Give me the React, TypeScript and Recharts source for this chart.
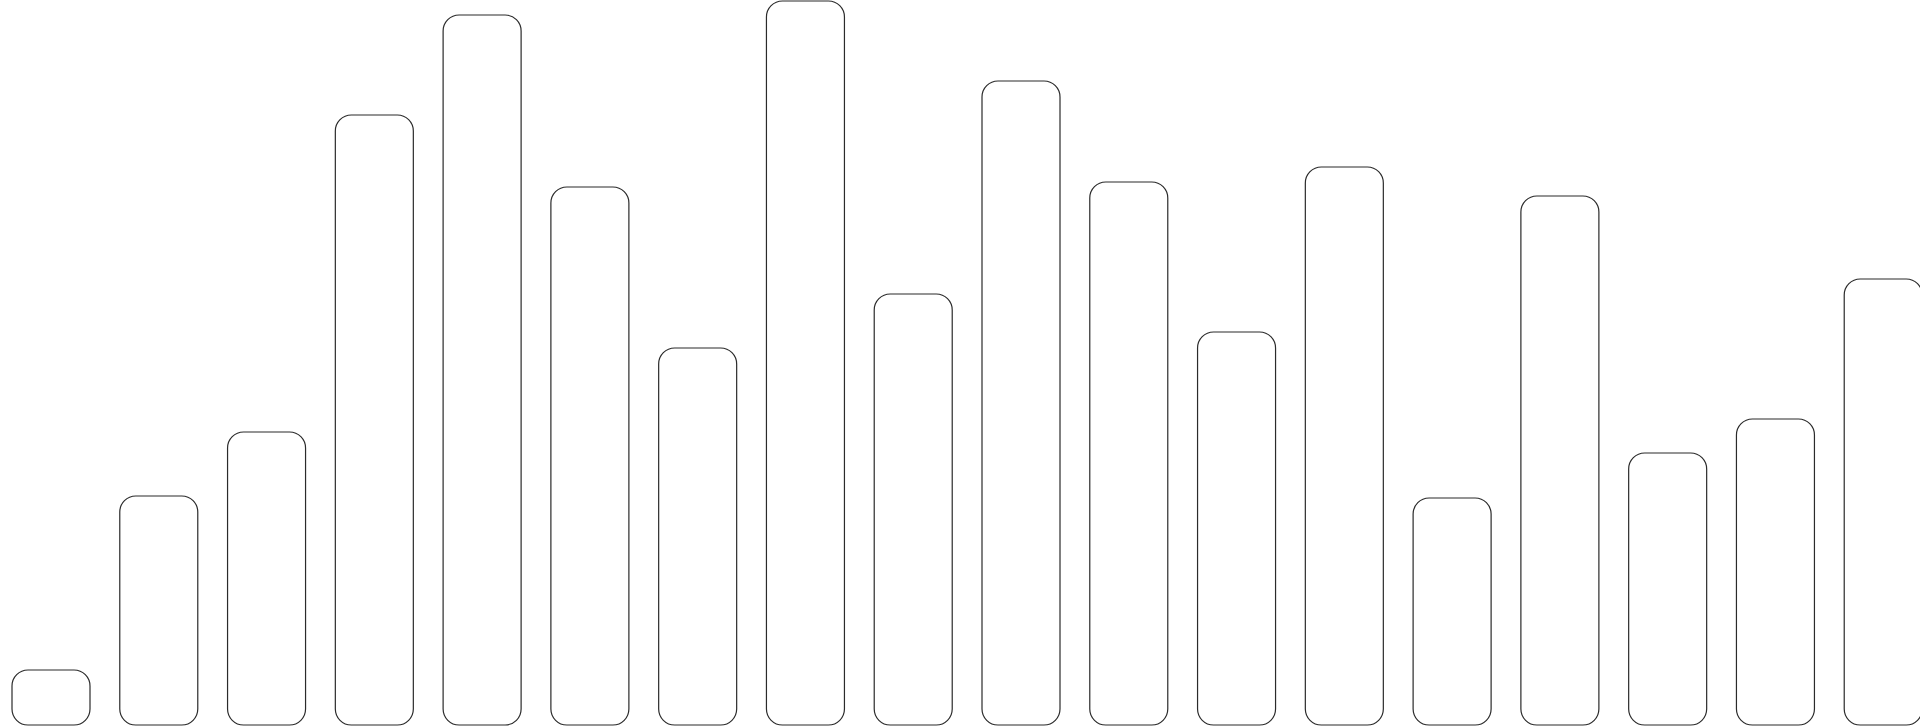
import { BarChart, Bar, XAxis, YAxis } from "recharts";

const categories = ["1", "2", "3", "4", "5", "6", "7", "8", "9", "10", "11", "12", "13", "14", "15", "16", "17", "18"];
const values = [55, 229, 293, 610, 710, 538, 377, 724, 431, 644, 543, 393, 558, 227, 529, 272, 306, 446];
const yMax = 724;

const data = categories.map((name, i) => ({ name, value: values[i] }));

export default function App() {
  return (
    <div style={{ position: "fixed", left: 0, top: 0, width: 1920, height: 727, overflow: "hidden", background: "#ffffff" }}>
      <BarChart
        width={1940}
        height={727}
        data={data}
        margin={{ top: 1, right: 0, bottom: 2, left: 0 }}
        style={{ marginLeft: -3 }}
      >
        <XAxis dataKey="name" hide />
        <YAxis hide domain={[0, yMax]} />
        <Bar
          dataKey="value"
          barSize={78}
          fill="#ffffff"
          stroke="#2b2b2b"
          strokeWidth={1.2}
          radius={[16, 16, 16, 16]}
          isAnimationActive={false}
        />
      </BarChart>
    </div>
  );
}
